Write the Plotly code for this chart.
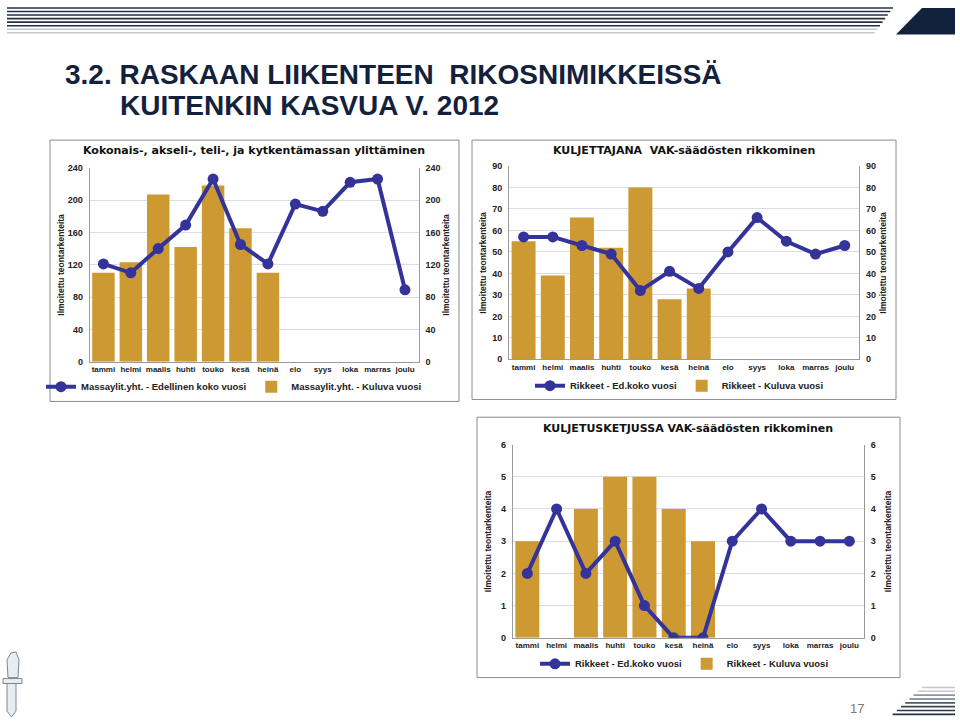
import plotly.graph_objects as go

# month labels shared by all three charts
months = ['tammi', 'helmi', 'maalis', 'huhti', 'touko', 'kesä', 'heinä',
          'elo', 'syys', 'loka', 'marras', 'joulu']

# chart 1: mass overruns
mass_prev = [121, 110, 140, 169, 226, 145, 121, 195, 186, 222, 226, 89]
mass_curr = [110, 123, 207, 142, 218, 165, 110]
mass_ticks = [0, 40, 80, 120, 160, 200, 240]

# chart 2: driver VAK violations
vak_prev = [57, 57, 53, 49, 32, 41, 33, 50, 66, 55, 49, 53]
vak_curr = [55, 39, 66, 52, 80, 28, 33]
vak_ticks = [0, 10, 20, 30, 40, 50, 60, 70, 80, 90]

# chart 3: transport chain VAK violations
chain_prev = [2, 4, 2, 3, 1, 0, 0, 3, 4, 3, 3, 3]
chain_curr = [3, 0, 4, 5, 5, 4, 3]
chain_ticks = [0, 1, 2, 3, 4, 5, 6]

W, H = 960, 724
LINE_C = '#33339a'
BAR_C = '#cc9933'
TXT = '#222222'
FONT = 'Liberation Sans, Arial, sans-serif'
TFONT = 'DejaVu Sans, Verdana, sans-serif'


def px(x):
    return x / W


def py(y):
    return 1 - y / H


fig = go.Figure()

charts = [
    dict(prev=mass_prev, curr=mass_curr, ticks=mass_ticks,
         box=(50, 137, 459, 402), plot=(89.7, 165, 418.7, 361.7),
         title='Kokonais-, akseli-, teli-, ja kytkentämassan ylittäminen',
         names=('Massaylit.yht. - Edellinen koko vuosi', 'Massaylit.yht. - Kuluva vuosi'),
         leg=(41, 387), ytitle=(61, 446)),
    dict(prev=vak_prev, curr=vak_curr, ticks=vak_ticks,
         box=(472, 137, 896, 400), plot=(509, 163.3, 859.3, 359.3),
         title='KULJETTAJANA  VAK-säädösten rikkominen',
         names=('Rikkeet - Ed.koko vuosi', 'Rikkeet - Kuluva vuosi'),
         leg=(530, 386), ytitle=(483, 883)),
    dict(prev=chain_prev, curr=chain_curr, ticks=chain_ticks,
         box=(477, 418, 900, 682), plot=(512.7, 445.7, 864, 641.7),
         title='KULJETUSKETJUSSA VAK-säädösten rikkominen',
         names=('Rikkeet - Ed.koko vuosi', 'Rikkeet - Kuluva vuosi'),
         leg=(535, 668), ytitle=(488, 888)),
]

shapes = []
annotations = []
layout = {}

for i, c in enumerate(charts, start=1):
    sx = '' if i == 1 else str(i)
    xr, yl, yr = 'x' + sx, 'y' + sx, 'y' + str(i + 3)
    leg = 'legend' + sx
    rng = [0, c['ticks'][-1]]
    x0, y0, x1, y1 = c['plot']

    fig.add_trace(go.Bar(
        x=months[:len(c['curr'])], y=c['curr'], name=c['names'][1],
        marker=dict(color=BAR_C, line=dict(width=0)),
        xaxis=xr, yaxis=yl, legend=leg, legendrank=2))
    fig.add_trace(go.Scatter(
        x=months, y=c['prev'], name=c['names'][0], mode='lines+markers',
        line=dict(color=LINE_C, width=4), marker=dict(color=LINE_C, size=11),
        xaxis=xr, yaxis=yr, legend=leg, legendrank=1))

    tick_font = dict(family=FONT, size=9, color=TXT, weight='bold')
    layout['xaxis' + sx] = dict(
        domain=[px(x0), px(x1)], anchor=yl, type='category',
        categoryorder='array', categoryarray=months, range=[-0.5, 11.5],
        showgrid=False, showline=True, linecolor='#9a9a9a', linewidth=1,
        ticks='', tickfont=dict(family=FONT, size=8, color=TXT, weight='bold'),
        fixedrange=True)
    layout['yaxis' + sx] = dict(
        domain=[py(y1), py(y0)], anchor=xr, range=rng, tickvals=c['ticks'],
        showgrid=True, gridcolor='#dcdce4', gridwidth=1, zeroline=False,
        showline=True, linecolor='#9a9a9a', linewidth=1,
        ticks='outside', ticklen=4, tickcolor='rgba(0,0,0,0)',
        tickfont=tick_font, fixedrange=True)
    layout['yaxis' + str(i + 3)] = dict(
        overlaying=yl, anchor=xr, side='right', range=rng, tickvals=c['ticks'],
        showgrid=False, zeroline=False, showline=True, linecolor='#9a9a9a',
        linewidth=1, ticks='outside', ticklen=4, tickcolor='rgba(0,0,0,0)',
        tickfont=tick_font, fixedrange=True)
    layout[leg] = dict(
        orientation='h', x=px(c['leg'][0]), y=py(c['leg'][1]),
        xanchor='left', yanchor='middle', bgcolor='rgba(0,0,0,0)',
        font=dict(family=FONT, size=9.5, color=TXT, weight='bold'),
        itemwidth=30, traceorder='normal')

    bx0, by0, bx1, by1 = c['box']
    shapes.append(dict(type='rect', xref='paper', yref='paper',
                       x0=px(bx0), x1=px(bx1), y0=py(by1), y1=py(by0),
                       line=dict(color='#8c8c8c', width=1), layer='below'))
    annotations.append(dict(
        text=c['title'], xref='paper', yref='paper',
        x=px((x0 + x1) / 2), y=py(by0 + 11), xanchor='center', yanchor='middle',
        showarrow=False, font=dict(family=TFONT, size=11, color='#111111', weight='bold')))
    for tx in c['ytitle']:
        annotations.append(dict(
            text='Ilmoitettu teontarkenteita', xref='paper', yref='paper',
            x=px(tx), y=py((y0 + y1) / 2), textangle=-90,
            xanchor='center', yanchor='middle', showarrow=False,
            font=dict(family=FONT, size=8.5, color=TXT, weight='bold')))

# slide title
title_font = dict(family=FONT, size=28, color='#14213d', weight='bold')
annotations.append(dict(text='3.2. RASKAAN LIIKENTEEN  RIKOSNIMIKKEISSÄ',
                        xref='paper', yref='paper', x=px(63), y=py(70),
                        xanchor='left', yanchor='middle', showarrow=False,
                        font=title_font))
annotations.append(dict(text='KUITENKIN KASVUA V. 2012',
                        xref='paper', yref='paper', x=px(118), y=py(102),
                        xanchor='left', yanchor='middle', showarrow=False,
                        font=title_font))
annotations.append(dict(text='17', xref='paper', yref='paper',
                        x=px(857), y=py(713), xanchor='center', yanchor='middle',
                        showarrow=False,
                        font=dict(family=FONT, size=13, color='#7a7a7a')))

# header stripes
stripe_cols = ['#243045'] * 6 + ['#c4c8cd'] * 2
for k, col in enumerate(stripe_cols):
    yy = 3 + k * 3.6
    shapes.append(dict(type='line', xref='paper', yref='paper',
                       x0=px(7), x1=px(893 - k * 2.6), y0=py(yy), y1=py(yy),
                       line=dict(color=col, width=1.6)))
shapes.append(dict(type='path', xref='paper', yref='paper',
                   path='M %f,%f L %f,%f L %f,%f L %f,%f Z' % (
                       px(922), py(3), px(955), py(3), px(955), py(30), px(896), py(30)),
                   fillcolor='#12223c', line=dict(width=0)))

# footer stripes
foot_cols = ['#c4c8cd', '#c4c8cd', '#8d96a2', '#6b7685', '#4f5b6b', '#3a4657', '#2c384a', '#243045']
for k, col in enumerate(foot_cols):
    yy = 692 + k * 3.9
    shapes.append(dict(type='line', xref='paper', yref='paper',
                       x0=px(922 - k * 4.2), x1=px(955), y0=py(yy), y1=py(yy),
                       line=dict(color=col, width=1.6)))

# small emblem bottom left
emb = dict(xref='paper', yref='paper', fillcolor='#e9edf0',
           line=dict(color='#7d8894', width=1))
shapes.append(dict(type='path', path='M %f,%f L %f,%f L %f,%f L %f,%f L %f,%f L %f,%f Z' % (
    px(8), py(682), px(7), py(664), px(11), py(657), px(16), py(656), px(19), py(664), px(18), py(682)), **emb))
shapes.append(dict(type='rect', x0=px(3), x1=px(22), y0=py(688), y1=py(683), **emb))
shapes.append(dict(type='path', path='M %f,%f L %f,%f L %f,%f L %f,%f L %f,%f Z' % (
    px(7), py(688), px(16), py(688), px(16), py(716), px(11.5), py(722), px(7), py(716)), **emb))

fig.update_layout(
    width=W, height=H, autosize=False,
    margin=dict(l=0, r=0, t=0, b=0),
    paper_bgcolor='white', plot_bgcolor='white',
    bargap=0.18, showlegend=True,
    font=dict(family=FONT, color=TXT),
    shapes=shapes, annotations=annotations,
    **layout)

fig.write_html('out.html', config={'displayModeBar': False},
               post_script="document.body.style.margin='0px';document.body.style.overflow='hidden';")
